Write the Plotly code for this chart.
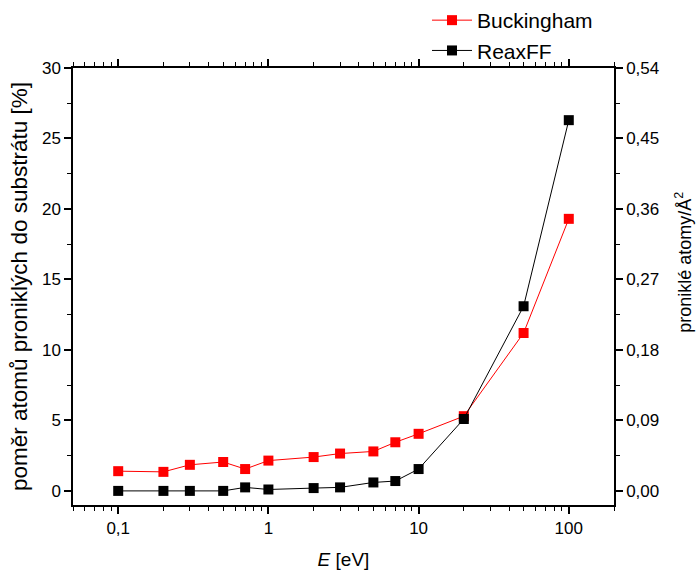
import numpy as np
import plotly.graph_objects as go

energy = [0.1, 0.2, 0.3, 0.5, 0.7, 1, 2, 3, 5, 7, 10, 20, 50, 100]
buckingham = [1.4, 1.35, 1.85, 2.05, 1.55, 2.15, 2.4, 2.65, 2.8, 3.45, 4.05, 5.3, 11.2, 19.3]
reaxff = [0.0, 0.0, 0.0, 0.0, 0.25, 0.1, 0.2, 0.25, 0.6, 0.7, 1.55, 5.1, 13.1, 26.3]

x_ticks = [0.1, 1, 10, 100]
x_ticktext = ["0,1", "1", "10", "100"]
x_minor = [m * 10.0 ** e for e in range(-2, 3) for m in range(2, 10)]
y_left_ticks = [0, 5, 10, 15, 20, 25, 30]
y_right_ticks = [0.0, 0.09, 0.18, 0.27, 0.36, 0.45, 0.54]
y_right_text = ["0,00", "0,09", "0,18", "0,27", "0,36", "0,45", "0,54"]

font = "Liberation Sans, Arial, sans-serif"

fig = go.Figure()
fig.add_trace(go.Scatter(x=energy, y=buckingham, mode="lines+markers", name="Buckingham",
                         line=dict(color="#ff0000", width=1),
                         marker=dict(symbol="square", size=10, color="#ff0000")))
fig.add_trace(go.Scatter(x=energy, y=reaxff, mode="lines+markers", name="ReaxFF",
                         line=dict(color="#000000", width=1),
                         marker=dict(symbol="square", size=10, color="#000000")))
fig.add_trace(go.Scatter(x=[1], y=[0], yaxis="y2", mode="markers", opacity=0,
                         showlegend=False, hoverinfo="skip"))

axis_common = dict(showgrid=False, zeroline=False, showline=True, linecolor="black",
                   linewidth=1.5, ticks="outside", tickcolor="black", tickwidth=1.5,
                   ticklen=7, tickfont=dict(family=font, size=17, color="black"))

fig.update_layout(
    width=696, height=572,
    margin=dict(l=73, r=82, t=68, b=67, autoexpand=False),
    paper_bgcolor="white", plot_bgcolor="white",
    font=dict(family=font, size=17, color="black"),
    xaxis=dict(type="log", range=[np.log10(0.05), np.log10(200)],
               tickmode="array", tickvals=x_ticks, ticktext=x_ticktext,
               mirror="ticks",
               minor=dict(tickmode="array", tickvals=x_minor, ticks="outside",
                          ticklen=4, tickwidth=1, tickcolor="black"),
               title=dict(text="<i>E</i> [eV]", font=dict(family=font, size=19), standoff=16),
               **axis_common),
    yaxis=dict(range=[-1, 30], tickmode="array", tickvals=y_left_ticks,
               minor=dict(dtick=2.5, tick0=0, ticks="outside", ticklen=4, tickwidth=1, tickcolor="black"),
               title=dict(text="poměr atomů proniklých do substrátu [%]",
                          font=dict(family=font, size=22.5), standoff=8),
               **axis_common),
    yaxis2=dict(overlaying="y", side="right", range=[-0.018, 0.54],
                tickmode="array", tickvals=y_right_ticks, ticktext=y_right_text,
                minor=dict(dtick=0.045, tick0=0, ticks="outside", ticklen=4, tickwidth=1, tickcolor="black"),
                **axis_common),
    annotations=[dict(text="proniklé atomy/Å<sup>2</sup>", textangle=-90,
                      xref="paper", yref="paper", x=1 + (684 - 614) / 541,
                      y=(505 - 263) / 436.5, xanchor="center", yanchor="middle",
                      showarrow=False, font=dict(family=font, size=18, color="black"))],
    legend=dict(xref="container", yref="container", x=427 / 696, y=1.0,
                xanchor="left", yanchor="top", maxheight=200,
                bgcolor="rgba(0,0,0,0)", font=dict(family=font, size=21),
                itemwidth=40, tracegroupgap=0),
    showlegend=True,
)

fig.write_html("out.html")
